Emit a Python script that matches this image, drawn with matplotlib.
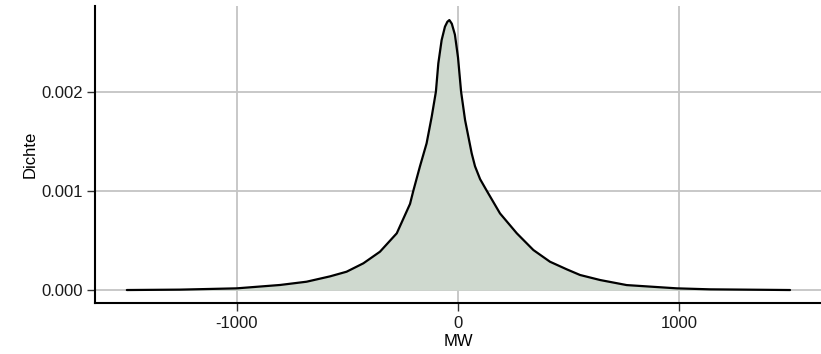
import matplotlib
matplotlib.use("Agg")
import matplotlib.pyplot as plt

# Density curve (x in MW, density)
mw = [-1498, -1258, -1001, -805, -685, -579, -504, -428, -353, -277, -217,
      -202, -172, -142, -119, -100, -89, -74, -59, -48, -39, -28, -14, 0,
      14, 32, 62, 77, 100, 130, 190, 266, 341, 416, 492, 552, 643, 763,
      990, 1140, 1502]
dichte = [0.0, 0.000004, 0.000017, 0.000051, 0.000084, 0.000138, 0.000185,
          0.00027, 0.000387, 0.000573, 0.00087, 0.001003, 0.00125,
          0.001482, 0.00175, 0.002003, 0.00229, 0.002525, 0.00266, 0.00271,
          0.002727, 0.00269, 0.00258, 0.00235, 0.002003, 0.001717, 0.00138,
          0.00125, 0.00112, 0.001003, 0.000774, 0.000573, 0.000404,
          0.000286, 0.000209, 0.000152, 0.000101, 0.00005, 0.000017,
          0.000007, 0.0]

x_ticks = [-1000, 0, 1000]
y_ticks = [0.000, 0.001, 0.002]
y_ticklabels = ["0.000", "0.001", "0.002"]

plt.rcParams['font.family'] = ['Liberation Sans', 'DejaVu Sans']
plt.rcParams['axes.unicode_minus'] = False

fig = plt.figure(figsize=(8.21, 3.54), dpi=100)
ax = fig.add_axes([95/821, (354-303)/354, 1 - 95/821, (303-6)/354])

ax.fill_between(mw, dichte, 0, color="#cfd9cf", linewidth=0, zorder=2)
ax.plot(mw, dichte, color="black", linewidth=1.6, zorder=3,
        solid_joinstyle="round", solid_capstyle="round")

ax.set_xlim(-1642, 1642)
ax.set_ylim(-0.000131, 0.002869)
ax.set_xticks(x_ticks)
ax.set_yticks(y_ticks)
ax.set_yticklabels(y_ticklabels)

ax.grid(True, color="#c4c4c4", linewidth=1.3, zorder=1)
ax.set_axisbelow(True)

for s in ["top", "right"]:
    ax.spines[s].set_visible(False)
for s in ["left", "bottom"]:
    ax.spines[s].set_color("black")
    ax.spines[s].set_linewidth(1.5)

ax.tick_params(axis="both", direction="out", length=5.5, width=1.0,
               color="#333333", labelsize=12, labelcolor="#1a1a1a")
ax.tick_params(axis="x", pad=4)
ax.tick_params(axis="y", pad=3)

ax.set_xlabel("MW", fontsize=12, labelpad=2)
ax.set_ylabel("Dichte", fontsize=12, labelpad=3)

fig.savefig("out.png", dpi=100)
